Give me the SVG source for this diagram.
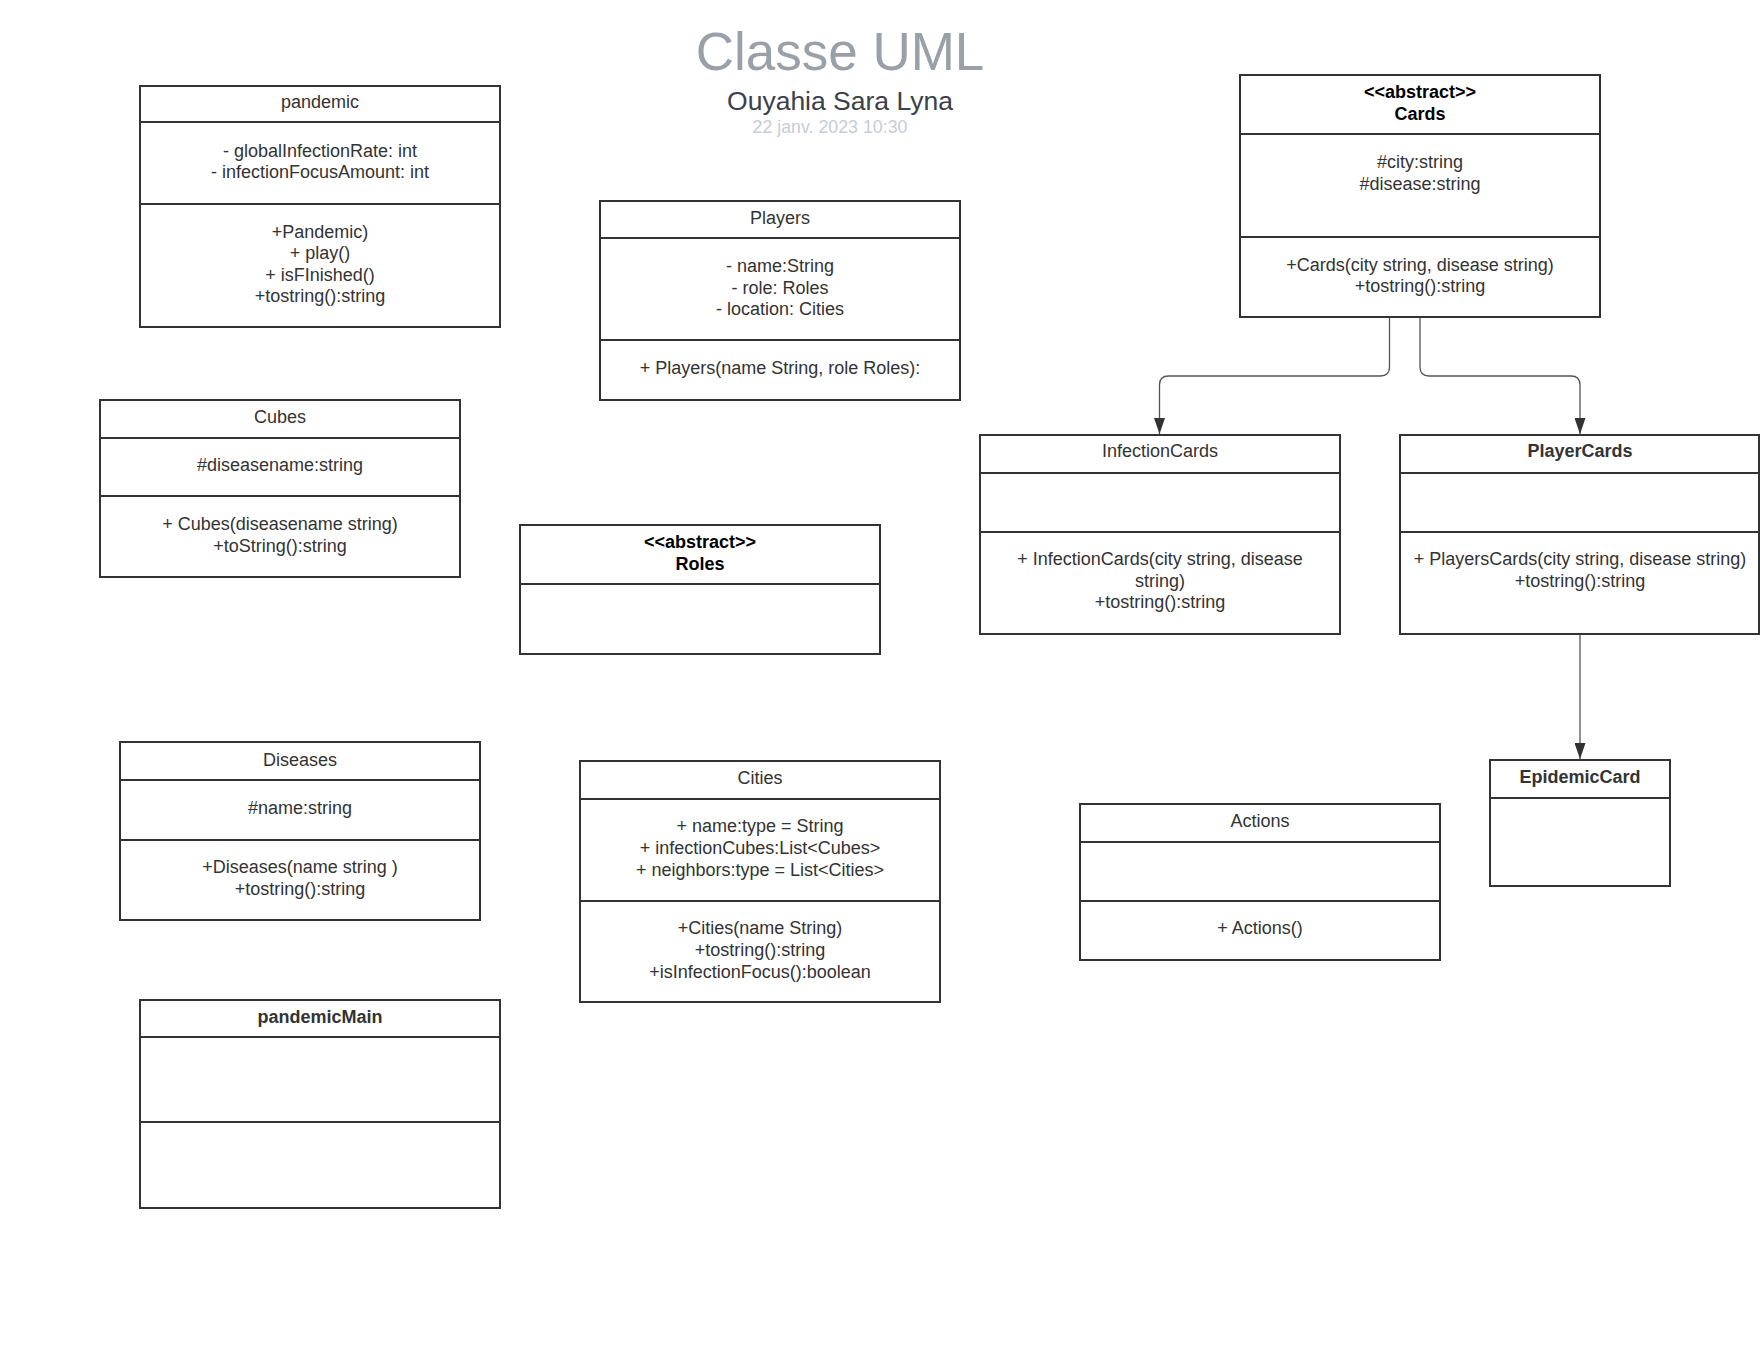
<svg xmlns="http://www.w3.org/2000/svg" width="1760" height="1360" viewBox="0 0 1760 1360">
<defs>
<style>
.box{fill:#fff;stroke:#333;stroke-width:2}
.div{stroke:#333;stroke-width:2}
.t{font-family:"Liberation Sans",Arial,sans-serif;font-size:18px;fill:#333;text-anchor:middle}
.b{font-weight:bold}
.k{fill:#000}
.con{fill:none;stroke:#555;stroke-width:1.3}
</style>
<marker id="ah" viewBox="0 0 16 11" refX="16" refY="5.5" markerWidth="16" markerHeight="11" markerUnits="userSpaceOnUse" orient="auto">
<path d="M0,0 L16,5.5 L0,11 Z" fill="#333"/>
</marker>
</defs>
<rect width="1760" height="1360" fill="#fff"/>

<g id="title">
<text x="840" y="70" font-family="Liberation Sans,Arial,sans-serif" font-size="53" fill="#9aa0a8" text-anchor="middle">Classe UML</text>
<text x="840" y="110" font-family="Liberation Sans,Arial,sans-serif" font-size="26.5" fill="#3a414a" text-anchor="middle">Ouyahia Sara Lyna</text>
<text x="830" y="133" font-family="Liberation Sans,Arial,sans-serif" font-size="17.8" fill="#c8ccd4" text-anchor="middle">22 janv. 2023 10:30</text>
</g>

<g id="pandemic">
<rect class="box" x="140" y="86" width="360" height="241"/>
<line class="div" x1="140" y1="122" x2="500" y2="122"/>
<line class="div" x1="140" y1="204" x2="500" y2="204"/>
<text class="t" x="320" y="108">pandemic</text>
<text class="t" x="320" y="157">- globalInfectionRate: int</text>
<text class="t" x="320" y="178">- infectionFocusAmount: int</text>
<text class="t" x="320" y="237.5">+Pandemic)</text>
<text class="t" x="320" y="259">+ play()</text>
<text class="t" x="320" y="280.5">+ isFInished()</text>
<text class="t" x="320" y="302">+tostring():string</text>
</g>

<g id="Players">
<rect class="box" x="600" y="201" width="360" height="199"/>
<line class="div" x1="600" y1="238" x2="960" y2="238"/>
<line class="div" x1="600" y1="340" x2="960" y2="340"/>
<text class="t" x="780" y="224">Players</text>
<text class="t" x="780" y="272">- name:String</text>
<text class="t" x="780" y="293.5">- role: Roles</text>
<text class="t" x="780" y="315">- location: Cities</text>
<text class="t" x="780" y="374">+ Players(name String, role Roles):</text>
</g>

<g id="Cubes">
<rect class="box" x="100" y="400" width="360" height="177"/>
<line class="div" x1="100" y1="438" x2="460" y2="438"/>
<line class="div" x1="100" y1="496" x2="460" y2="496"/>
<text class="t" x="280" y="423">Cubes</text>
<text class="t" x="280" y="471">#diseasename:string</text>
<text class="t" x="280" y="530">+ Cubes(diseasename string)</text>
<text class="t" x="280" y="552">+toString():string</text>
</g>

<g id="Roles">
<rect class="box" x="520" y="525" width="360" height="129"/>
<line class="div" x1="520" y1="584" x2="880" y2="584"/>
<text class="t b k" x="700" y="548">&lt;&lt;abstract&gt;&gt;</text>
<text class="t b k" x="700" y="570">Roles</text>
</g>

<g id="Diseases">
<rect class="box" x="120" y="742" width="360" height="178"/>
<line class="div" x1="120" y1="780" x2="480" y2="780"/>
<line class="div" x1="120" y1="840" x2="480" y2="840"/>
<text class="t" x="300" y="766">Diseases</text>
<text class="t" x="300" y="814">#name:string</text>
<text class="t" x="300" y="873">+Diseases(name string )</text>
<text class="t" x="300" y="895">+tostring():string</text>
</g>

<g id="Cities">
<rect class="box" x="580" y="761" width="360" height="241"/>
<line class="div" x1="580" y1="799" x2="940" y2="799"/>
<line class="div" x1="580" y1="901" x2="940" y2="901"/>
<text class="t" x="760" y="784">Cities</text>
<text class="t" x="760" y="832">+ name:type = String</text>
<text class="t" x="760" y="854">+ infectionCubes:List&lt;Cubes&gt;</text>
<text class="t" x="760" y="876">+ neighbors:type = List&lt;Cities&gt;</text>
<text class="t" x="760" y="934">+Cities(name String)</text>
<text class="t" x="760" y="956">+tostring():string</text>
<text class="t" x="760" y="978">+isInfectionFocus():boolean</text>
</g>

<g id="pandemicMain">
<rect class="box" x="140" y="1000" width="360" height="208"/>
<line class="div" x1="140" y1="1037" x2="500" y2="1037"/>
<line class="div" x1="140" y1="1122" x2="500" y2="1122"/>
<text class="t b" x="320" y="1023">pandemicMain</text>
</g>

<g id="Cards">
<rect class="box" x="1240" y="75" width="360" height="242"/>
<line class="div" x1="1240" y1="134" x2="1600" y2="134"/>
<line class="div" x1="1240" y1="237" x2="1600" y2="237"/>
<text class="t b k" x="1420" y="98">&lt;&lt;abstract&gt;&gt;</text>
<text class="t b k" x="1420" y="120">Cards</text>
<text class="t" x="1420" y="168">#city:string</text>
<text class="t" x="1420" y="190">#disease:string</text>
<text class="t" x="1420" y="271">+Cards(city string, disease string)</text>
<text class="t" x="1420" y="292">+tostring():string</text>
</g>

<g id="InfectionCards">
<rect class="box" x="980" y="435" width="360" height="199"/>
<line class="div" x1="980" y1="473" x2="1340" y2="473"/>
<line class="div" x1="980" y1="532" x2="1340" y2="532"/>
<text class="t" x="1160" y="457">InfectionCards</text>
<text class="t" x="1160" y="565">+ InfectionCards(city string, disease</text>
<text class="t" x="1160" y="587">string)</text>
<text class="t" x="1160" y="608">+tostring():string</text>
</g>

<g id="PlayerCards">
<rect class="box" x="1400" y="435" width="359" height="199"/>
<line class="div" x1="1400" y1="473" x2="1759" y2="473"/>
<line class="div" x1="1400" y1="532" x2="1759" y2="532"/>
<text class="t b" x="1580" y="457">PlayerCards</text>
<text class="t" x="1580" y="565">+ PlayersCards(city string, disease string)</text>
<text class="t" x="1580" y="587">+tostring():string</text>
</g>

<g id="Actions">
<rect class="box" x="1080" y="804" width="360" height="156"/>
<line class="div" x1="1080" y1="842" x2="1440" y2="842"/>
<line class="div" x1="1080" y1="901" x2="1440" y2="901"/>
<text class="t" x="1260" y="827">Actions</text>
<text class="t" x="1260" y="934">+ Actions()</text>
</g>

<g id="EpidemicCard">
<rect class="box" x="1490" y="760" width="180" height="126"/>
<line class="div" x1="1490" y1="798" x2="1670" y2="798"/>
<text class="t b" x="1580" y="783">EpidemicCard</text>
</g>

<g id="connectors">
<path class="con" d="M1389.5,318 L1389.5,367 Q1389.5,376 1380.5,376 L1168.5,376 Q1159.5,376 1159.5,385 L1159.5,434" marker-end="url(#ah)"/>
<path class="con" d="M1420,318 L1420,367 Q1420,376 1429,376 L1571,376 Q1580,376 1580,385 L1580,434" marker-end="url(#ah)"/>
<path class="con" d="M1580,635 L1580,759" marker-end="url(#ah)"/>
</g>
</svg>
